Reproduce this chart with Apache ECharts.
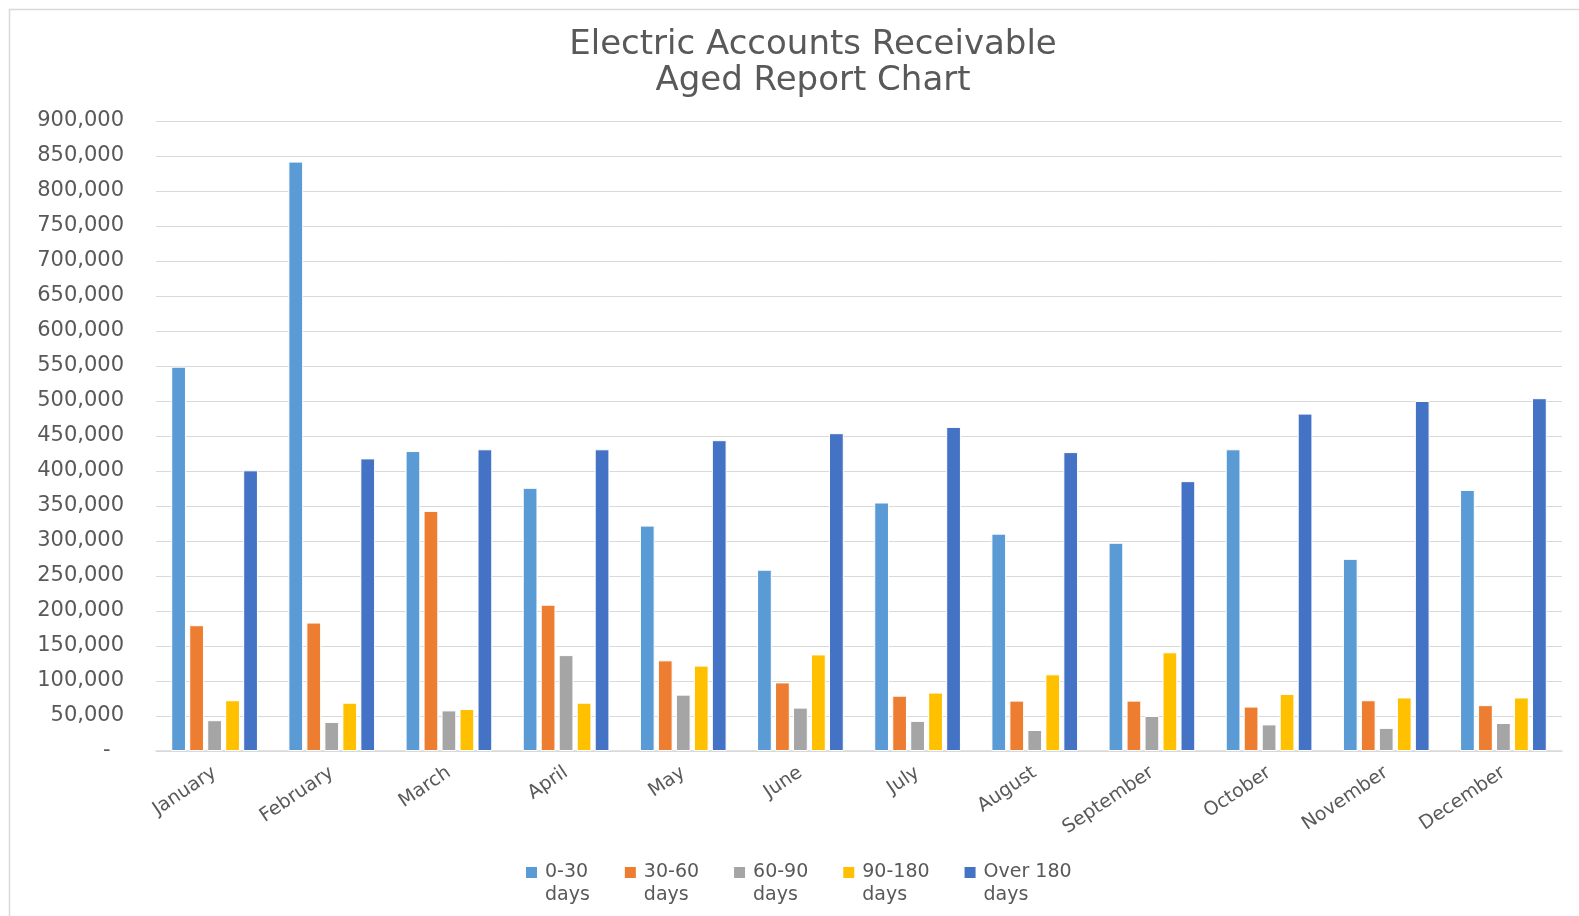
<!DOCTYPE html>
<html>
<head>
<meta charset="utf-8">
<title>Electric Accounts Receivable Aged Report Chart</title>
<script src="https://cdn.jsdelivr.net/npm/echarts@6/dist/echarts.min.js"></script>
<style>
  html, body { margin: 0; padding: 0; background: #ffffff; }
  #chart { width: 1579px; height: 916px; }
</style>
</head>
<body>
<div id="chart"></div>
<script>
// Month categories
const months = ['January', 'February', 'March', 'April', 'May', 'June',
  'July', 'August', 'September', 'October', 'November', 'December'];

// Aging buckets (legend labels)
const bucketNames = ['0-30\ndays', '30-60\ndays', '60-90\ndays', '90-180\ndays', 'Over 180\ndays'];

// Receivable balances per aging bucket, by month
const days0to30   = [549000, 842000, 428500, 376000, 322000, 259000, 355000, 310500, 297500, 431000, 274500, 373000];
const days30to60  = [179700, 183500, 343000, 209000, 129500,  98000,  79000,  72000,  72000,  63500,  72500,  65500];
const days60to90  = [ 44000,  41500,  58000, 137000,  80500,  62000,  43000,  30000,  50000,  38000,  33000,  40000];
const days90to180 = [ 72500,  69000,  60000,  69000, 122000, 138000,  83500, 109500, 141000,  81500,  76500,  76500];
const daysOver180 = [401000, 418000, 431000, 431000, 444000, 454000, 463000, 427000, 385500, 482000, 500000, 504000];

// Y axis tick settings
const yMin = 0;
const yMax = 900000;
const yStep = 50000;

const bucketColors = ['#5B9BD5', '#ED7D31', '#A5A5A5', '#FFC000', '#4472C4'];
const bucketValues = [days0to30, days30to60, days60to90, days90to180, daysOver180];

const textColor = '#595959';
const fontFamily = '"DejaVu Sans", "Open Sans", sans-serif';
const legendLine = 23;

const chart = echarts.init(document.getElementById('chart'), null, { renderer: 'canvas' });

const series = bucketNames.map((name, i) => ({
  name: name,
  type: 'bar',
  data: bucketValues[i],
  barGap: '22%',
  barCategoryGap: '26%',
  itemStyle: {
    color: bucketColors[i],
    borderColor: '#ffffff',
    borderWidth: 1
  },
  emphasis: { disabled: true }
}));

const option = {
  backgroundColor: '#ffffff',
  animation: false,
  title: {
    text: 'Electric Accounts Receivable\nAged Report Chart',
    left: 808,
    textAlign: 'center',
    top: 22,
    textStyle: {
      color: textColor,
      fontFamily: fontFamily,
      fontWeight: 'normal',
      fontSize: 34,
      lineHeight: 36
    }
  },
  graphic: [{
    type: 'rect',
    silent: true,
    shape: { x: 9.5, y: 9.5, width: 1620, height: 960 },
    style: { fill: 'none', stroke: '#D9D9D9', lineWidth: 1.5 }
  }],
  legend: {
    data: bucketNames,
    left: 519,
    top: 835,
    orient: 'horizontal',
    itemWidth: 13,
    itemHeight: 13,
    itemGap: 33,
    icon: 'rect',
    // an empty first line keeps the swatch level with the first text line
    formatter: function (name) {
      return '{e| }\n' + name.split('\n').map(s => '{t|' + s + '}').join('\n');
    },
    textStyle: {
      color: textColor,
      fontFamily: fontFamily,
      fontSize: 19,
      rich: {
        e: { lineHeight: legendLine, fontSize: 19 },
        t: {
          color: textColor,
          fontFamily: fontFamily,
          fontSize: 19,
          lineHeight: legendLine,
          padding: [0, 0, 0, 2]
        }
      }
    }
  },
  grid: {
    left: 156,
    right: 17,
    top: 121,
    bottom: 165,
    containLabel: false
  },
  xAxis: {
    type: 'category',
    data: months,
    axisTick: { show: false },
    axisLine: { lineStyle: { color: '#D9D9D9', width: 1.5 } },
    axisLabel: {
      interval: 0,
      rotate: 34,
      margin: 20,
      color: textColor,
      fontFamily: fontFamily,
      fontSize: 19
    }
  },
  yAxis: {
    type: 'value',
    min: yMin,
    max: yMax,
    interval: yStep,
    axisLine: { show: false },
    axisTick: { show: false },
    splitLine: { lineStyle: { color: '#D9D9D9', width: 1 } },
    axisLabel: {
      margin: 32,
      color: textColor,
      fontFamily: fontFamily,
      fontSize: 21,
      formatter: function (v) {
        if (v === 0) return '-  ';
        return v.toLocaleString('en-US');
      }
    }
  },
  series: series
};

chart.setOption(option);
</script>
</body>
</html>
